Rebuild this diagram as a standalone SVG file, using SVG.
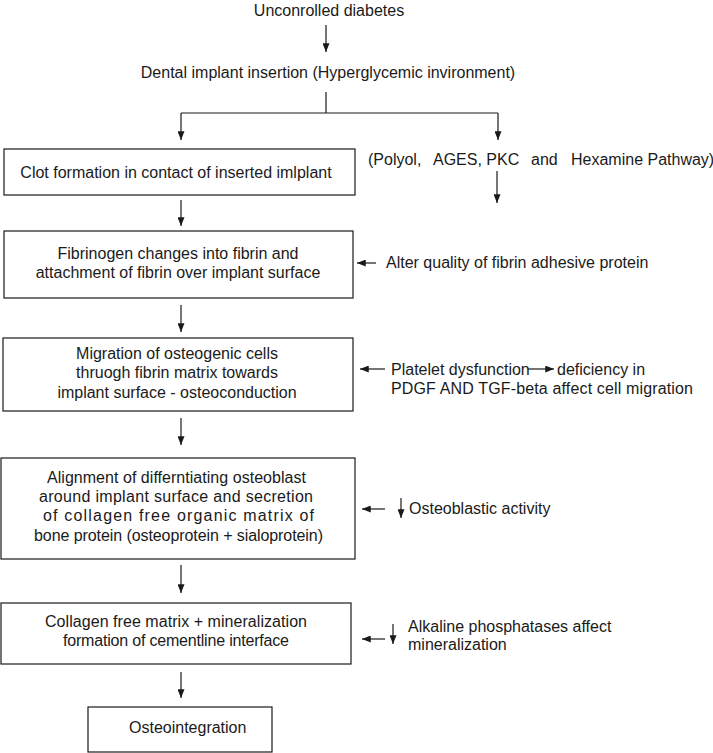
<svg xmlns="http://www.w3.org/2000/svg" width="713" height="753" viewBox="0 0 713 753">
<style>
text{font-family:"Liberation Sans",Arial,sans-serif;font-size:16px;fill:#1a1a1a}
.c{text-anchor:middle}
.box{fill:#fff;stroke:#1a1a1a;stroke-width:1.2}
.ln{stroke:#1a1a1a;stroke-width:1.2;fill:none}
</style>
<defs>
<marker id="ah" viewBox="0 0 10 8" refX="10" refY="4" markerWidth="9" markerHeight="7" markerUnits="userSpaceOnUse" orient="auto">
<path d="M0,0 L10,4 L0,8 z" fill="#1a1a1a"/>
</marker>
</defs>
<rect width="713" height="753" fill="#fff"/>
<g id="connectors">
<line class="ln" x1="326" y1="25" x2="326" y2="52" marker-end="url(#ah)"/>
<polyline class="ln" points="326,92 326,113"/>
<polyline class="ln" points="181,113 498,113"/>
<line class="ln" x1="181" y1="113" x2="181" y2="140" marker-end="url(#ah)"/>
<line class="ln" x1="498" y1="113" x2="498" y2="140" marker-end="url(#ah)"/>
<line class="ln" x1="497" y1="171" x2="497" y2="203" marker-end="url(#ah)"/>
<line class="ln" x1="181" y1="200" x2="181" y2="226" marker-end="url(#ah)"/>
<line class="ln" x1="181" y1="305" x2="181" y2="332" marker-end="url(#ah)"/>
<line class="ln" x1="181" y1="418" x2="181" y2="445" marker-end="url(#ah)"/>
<line class="ln" x1="181" y1="565" x2="181" y2="593" marker-end="url(#ah)"/>
<line class="ln" x1="181" y1="672" x2="181" y2="698" marker-end="url(#ah)"/>
<line class="ln" x1="376" y1="263" x2="357" y2="263" marker-end="url(#ah)"/>
<line class="ln" x1="385" y1="369" x2="360" y2="369" marker-end="url(#ah)"/>
<line class="ln" x1="528" y1="369" x2="554" y2="369" marker-end="url(#ah)"/>
<line class="ln" x1="385" y1="509" x2="362" y2="509" marker-end="url(#ah)"/>
<line class="ln" x1="401" y1="498" x2="401" y2="518" marker-end="url(#ah)"/>
<line class="ln" x1="385" y1="639" x2="362" y2="639" marker-end="url(#ah)"/>
<line class="ln" x1="393" y1="624" x2="393" y2="644" marker-end="url(#ah)"/>
</g>
<g id="n1"><text class="c" x="329" y="16">Unconrolled diabetes</text></g>
<g id="n2"><text class="c" x="328" y="78">Dental implant insertion (Hyperglycemic invironment)</text></g>
<g id="n3"><rect class="box" x="4" y="149" width="351" height="46"/><text class="c" x="176" y="178">Clot formation in contact of inserted imlplant</text></g>
<g id="n4"><text y="165"><tspan x="368">(Polyol,</tspan><tspan x="433">AGES, PKC</tspan><tspan x="531">and</tspan><tspan x="571">Hexamine Pathway)</tspan></text></g>
<g id="n5"><rect class="box" x="4" y="231" width="349" height="67"/><text class="c" x="178" y="259">Fibrinogen changes into fibrin and</text><text class="c" x="178" y="278">attachment of fibrin over implant surface</text></g>
<g id="n6"><text x="386" y="268">Alter quality of fibrin adhesive protein</text></g>
<g id="n7"><rect class="box" x="3" y="338" width="350" height="73"/><text class="c" x="177" y="359">Migration of osteogenic cells</text><text class="c" x="177" y="378">thruogh fibrin matrix towards</text><text class="c" x="177" y="398">implant surface - osteoconduction</text></g>
<g id="n8"><text x="391" y="375">Platelet dysfunction</text><text x="557" y="375">deficiency in</text><text x="391" y="394" textLength="302" lengthAdjust="spacing">PDGF AND TGF-beta affect cell migration</text></g>
<g id="n9"><rect class="box" x="1" y="458" width="354" height="101"/>
<text x="47" y="483" textLength="259" lengthAdjust="spacing">Alignment of differntiating osteoblast</text>
<text x="39" y="502" textLength="274" lengthAdjust="spacing">around implant surface and secretion</text>
<text x="43" y="521" textLength="271" lengthAdjust="spacing">of collagen free organic matrix of</text>
<text x="34" y="541" textLength="289" lengthAdjust="spacing">bone protein (osteoprotein + sialoprotein)</text></g>
<g id="n10"><text x="409" y="514">Osteoblastic activity</text></g>
<g id="n11"><rect class="box" x="1" y="603" width="350" height="61"/>
<text x="45" y="627" textLength="262" lengthAdjust="spacing">Collagen free matrix + mineralization</text>
<text x="63" y="646" textLength="226" lengthAdjust="spacing">formation of cementline interface</text></g>
<g id="n12"><text x="408" y="632">Alkaline phosphatases affect</text><text x="408" y="650">mineralization</text></g>
<g id="n13"><rect class="box" x="88" y="707" width="184" height="45"/><text x="129" y="733">Osteointegration</text></g>
</svg>
